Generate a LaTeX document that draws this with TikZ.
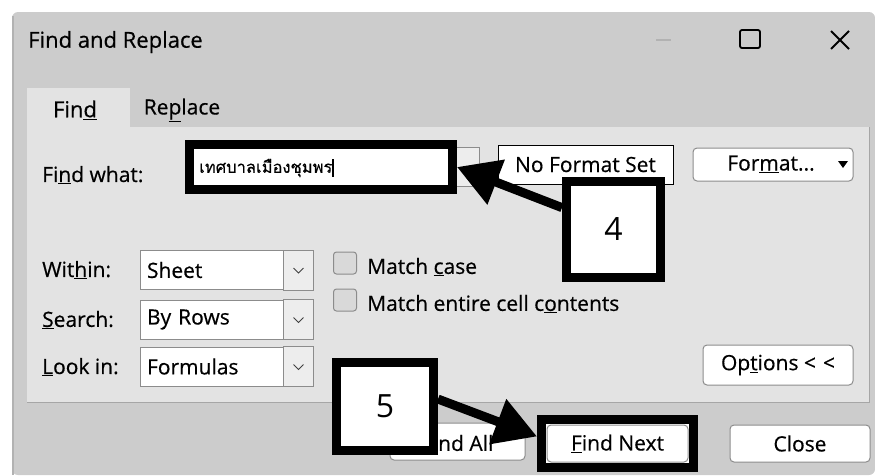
\documentclass[tikz,border=0pt]{standalone}
\usepackage{fontspec}
\setmainfont{Open Sans}[FakeBold=0.5]
\newfontfamily\numfont{Open Sans}
\newfontfamily\thaifont[Script=Thai,FakeBold=0.5]{Loma}
\usetikzlibrary{arrows.meta}
\definecolor{dlgbg}{gray}{0.80}
\definecolor{panelbg}{gray}{0.89}
\definecolor{ctlline}{gray}{0.55}
\definecolor{dropbg}{gray}{0.93}
\newcommand\uisize{\fontsize{21}{24}\selectfont}
\newcommand\numsize{\numfont\fontsize{32}{36}\selectfont}
\tikzset{
  lbl/.style={anchor=west,inner sep=0pt,font=\uisize},
  ctl/.style={draw=ctlline,fill=white,line width=1pt,inner sep=0pt,font=\uisize},
  btn/.style={ctl,rounded corners=4pt},
  combo/.style={ctl,text width=159pt,align=left,inner xsep=7pt,minimum height=39pt},
  chk/.style={draw=ctlline,fill=gray!30,line width=1pt,rounded corners=3pt,minimum width=23pt,minimum height=22pt,inner sep=0pt},
  callout/.style={draw=black,line width=9pt,fill=white,inner sep=0pt},
  pointer/.style={line width=9pt,-{Triangle[length=42pt,width=46pt]}}
}
\begin{document}
\begin{tikzpicture}[x=1pt,y=-1pt]
\useasboundingbox (0,0) rectangle (875,475);
% dialog
\fill[dlgbg,rounded corners=6pt] (12,12) -- (875,12) -- (875,475) -- (12,475) -- cycle;
\draw[gray!60,line width=2pt] (13,475) -- (13,16);
\fill[panelbg] (27,127) rectangle (869,402);
\fill[panelbg] (27,88) rectangle (130,127);
\draw[gray!70,line width=0.6pt] (27,402) -- (869,402) -- (869,127);
\node[lbl,font=\fontsize{22}{26}\selectfont] (title) at (28,42) {Find and Replace};
\draw[gray!60,line width=1.5pt] (656,40) -- (671,40);
\draw[line width=1.8pt,rounded corners=2pt] (740,30) rectangle (760,48);
\draw[line width=1.8pt] (831,31) -- (849,49) (831,49) -- (849,31);
% tabs
\node[font=\fontsize{22}{26}\selectfont] (tabfind) at (75,110) {Fin\underline{d}};
\node[font=\fontsize{21}{26}\selectfont] (tabrepl) at (182,110) {Re\underline{p}lace};
% find what
\node[lbl] (whatlbl) at (42,175) {Fi\underline{n}d what:};
\node[ctl,fill=dropbg,minimum width=25pt,minimum height=39pt] (whatdrop) at (467,166.5) {};
\node[callout,minimum width=263pt,minimum height=45pt] (findbox) at (321,167) {};
\node[anchor=west,inner sep=0pt,font=\fontsize{16.5}{18}\selectfont] (query) at (199,168) {\thaifont เทศบาลเมืองชุมพร\rule[-4pt]{1.2pt}{18pt}};
\node[ctl,draw=black,minimum width=175pt,minimum height=39pt] (nofmt) at (585.5,164.5) {No Format Set};
\node[btn,minimum width=160pt,minimum height=33pt] (fmtbtn) at (773,164.5) {};
\node[font=\uisize,inner sep=0pt] (fmttxt) at (771,164) {For\underline{m}at...};
\fill (838,161) -- (848,161) -- (843,168) -- cycle;
% combos
\node[combo] (within) at (226.5,270) {Sheet};
\node[combo] (search) at (226.5,319.5) {By Rows};
\node[combo] (lookin) at (226.5,366.5) {Formulas};
\foreach \n in {within,search,lookin}{
  \draw[ctlline,fill=dropbg,line width=1pt] ([xshift=-30pt]\n.north east) rectangle (\n.south east);
  \draw[gray!50!black,line width=1pt] ([xshift=-15pt]\n.east) +(-5,-2) -- +(0,3) -- +(5,-2);
}
\node[lbl] (withinlbl) at (42,270) {Wit\underline{h}in:};
\node[lbl] (searchlbl) at (42,320) {\underline{S}earch:};
\node[lbl] (lookinlbl) at (42,367) {\underline{L}ook in:};
% check boxes
\node[chk] (casebox) at (345,263) {};
\node[chk] (cellbox) at (345,300) {};
\node[lbl] (caselbl) at (367,267) {Match \underline{c}ase};
\node[lbl] (celllbl) at (367,304) {Match entire cell c\underline{o}ntents};
% buttons
\node[btn,minimum width=150pt,minimum height=40pt] (optbtn) at (778,365) {Op\underline{t}ions <\,\,<};
\node[btn,minimum width=135pt,minimum height=37pt] (allbtn) at (457.5,441.5) {};
\node[lbl] (alltxt) at (438,443) {nd All};
\node[callout,minimum width=152pt,minimum height=48pt] (findnext) at (617.5,443.5) {};
\node[btn,minimum width=141pt,minimum height=37pt] (nextbtn) at (617.5,443.5) {\underline{F}ind Next};
\node[btn,minimum width=140pt,minimum height=37pt] (closebtn) at (800,443.5) {Close};
% numbered callouts
\node[callout,minimum width=94pt,minimum height=96pt,font=\numsize] (num4) at (613.5,229.5) {4};
\draw[pointer] (num4.157) -- (findbox.east);
\node[callout,minimum width=97pt,minimum height=88pt,font=\numsize] (num5) at (385,406.5) {5};
\draw[pointer] (num5.8) -- (findnext.175);
\end{tikzpicture}
\end{document}
